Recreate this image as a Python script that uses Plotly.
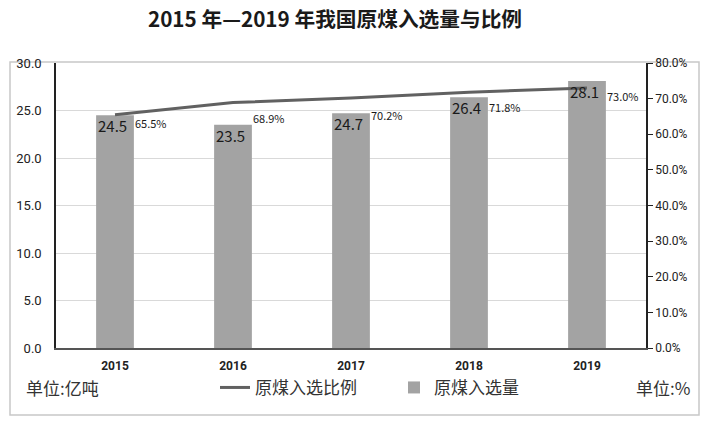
import plotly.graph_objects as go

years = ["2015", "2016", "2017", "2018", "2019"]
volume = [24.5, 23.5, 24.7, 26.4, 28.1]          # 原煤入选量 (亿吨)
ratio = [65.5, 68.9, 70.2, 71.8, 73.0]           # 原煤入选比例 (%)
left_ticks = [0, 5, 10, 15, 20, 25, 30]
right_ticks = [0, 10, 20, 30, 40, 50, 60, 70, 80]

FONT = "Noto Sans CJK SC"
pct_yshift = [-8, -15, -17, -15, -8]
xi = list(range(len(years)))

fig = go.Figure()
fig.add_trace(go.Bar(
    x=xi, y=volume, name="原煤入选量", width=0.32,
    marker=dict(color="#a3a3a3", line=dict(width=0)),
    legendrank=2, yaxis="y",
))
fig.add_trace(go.Scatter(
    x=xi, y=ratio, name="原煤入选比例", mode="lines",
    line=dict(color="#616161", width=3), legendrank=1, yaxis="y2",
))

for i, v in zip(xi, volume):
    fig.add_annotation(x=i, y=v, xref="x", yref="y", text=f"{v:.1f}",
                       showarrow=False, xanchor="left", yanchor="top",
                       xshift=-19, yshift=2,
                       font=dict(family=FONT, size=15, color="#1a1a1a"))
for i, r in zip(xi, ratio):
    fig.add_annotation(x=i, y=r, xref="x", yref="y2", text=f"{r:.1f}%",
                       showarrow=False, xanchor="left", yanchor="middle",
                       xshift=18, yshift=pct_yshift[i],
                       font=dict(family=FONT, size=11, color="#1a1a1a"))

fig.add_annotation(x=(24 - 56) / 590, y=-0.14, xref="paper", yref="paper",
                   text="单位:亿吨", showarrow=False, xanchor="left", yanchor="middle",
                   font=dict(family=FONT, size=17, color="#333"))
fig.add_annotation(x=(692 - 56) / 590, y=-0.14, xref="paper", yref="paper",
                   text="单位:%", showarrow=False, xanchor="right", yanchor="middle",
                   font=dict(family=FONT, size=17, color="#333"))

fig.add_shape(type="rect", xref="paper", yref="paper",
              x0=(10 - 56) / 590, x1=(699 - 56) / 590,
              y0=(348 - 415) / 285, y1=(348 - 62) / 285,
              line=dict(color="#c8c8c8", width=1.5), fillcolor="rgba(0,0,0,0)", layer="below")

fig.update_layout(
    width=710, height=424,
    margin=dict(l=56, r=64, t=63, b=76),
    paper_bgcolor="white", plot_bgcolor="white",
    font=dict(family=FONT, color="#222"),
    title=dict(text="<b>2015 年—2019 年我国原煤入选量与比例</b>",
               x=335 / 710, xanchor="center", y=1 - 20 / 424, yanchor="middle",
               yref="container", xref="container",
               font=dict(family=FONT, size=20.7, color="#1a1a1a")),
    showlegend=True,
    legend=dict(orientation="h", x=(215 - 56) / 590, y=-0.14, xanchor="left", yanchor="middle",
                font=dict(family=FONT, size=17, color="#333"), bgcolor="rgba(0,0,0,0)",
                itemwidth=30, traceorder="normal", entrywidth=134),
    xaxis=dict(range=[-0.5, len(years) - 0.5], tickvals=xi, ticktext=years,
               showline=True, linecolor="#555", linewidth=2, zeroline=False,
               ticks="", ticklabelstandoff=6,
               tickfont=dict(family="Roboto", size=12, color="#222", weight="bold"),
               showgrid=False, fixedrange=True),
    yaxis=dict(range=[0, 30], tickvals=left_ticks, ticktext=[f"{t:.1f}" for t in left_ticks],
               showline=True, linecolor="#222", linewidth=1.5,
               showgrid=True, gridcolor="#d9d9d9", gridwidth=1, zeroline=False,
               ticks="", ticklabelstandoff=10,
               tickfont=dict(family="Roboto", size=13, color="#222")),
    yaxis2=dict(range=[0, 80], tickvals=right_ticks, ticktext=[f"{t:.1f}%" for t in right_ticks],
                overlaying="y", side="right", showline=True, linecolor="#222", linewidth=1.5,
                showgrid=False, zeroline=False, ticks="outside", ticklen=5, tickcolor="#222",
                tickfont=dict(family="Roboto", size=12, color="#222")),
)

fig.write_html("out.html", config={"displayModeBar": False},
               post_script="document.body.style.margin='0';")
